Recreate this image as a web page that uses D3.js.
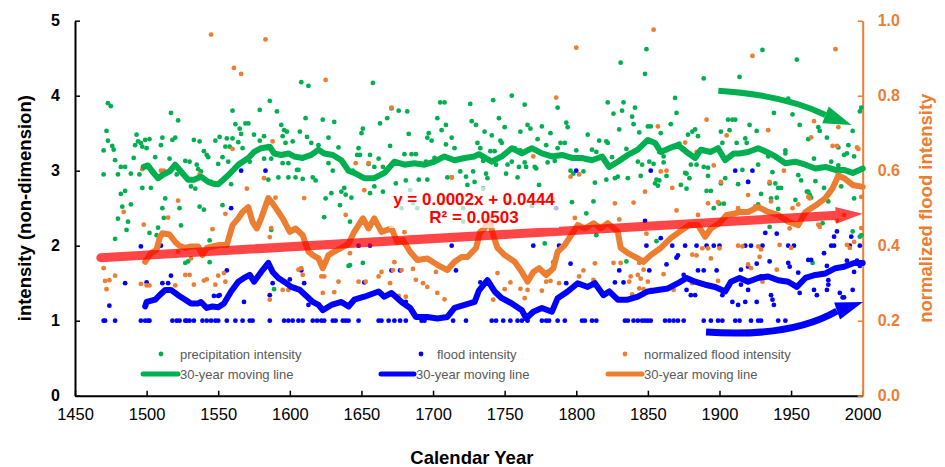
<!DOCTYPE html>
<html><head><meta charset="utf-8">
<script src="https://cdn.jsdelivr.net/npm/d3@7"></script>
<style>
html,body{margin:0;padding:0;background:#fff;}
svg{display:block;font-family:"Liberation Sans",Arial,sans-serif;}
</style></head><body>
<svg id="chart" width="945" height="467"></svg>
<script>
// ---- axis ticks ----
const xTicks = [1450,1500,1550,1600,1650,1700,1750,1800,1850,1900,1950,2000];
const leftTicks = [0,1,2,3,4,5];
const rightTicks = [0,0.2,0.4,0.6,0.8,1.0];

// ---- precipitation intensity, [year, value] ----
const precipPoints = [
[1470,3.27],[1470,2.95],[1472,3.53],[1473,3.40],[1473,3.90],[1475,3.86],[1476,3.33],[1477,3.28],[1478,3.14],[1478,2.09],
[1480,2.95],[1480,2.36],[1482,3.05],[1482,2.69],[1483,2.52],[1485,3.05],[1485,2.73],[1486,2.21],[1487,2.32],[1489,2.96],
[1489,2.55],[1491,3.17],[1492,3.34],[1493,3.48],[1494,3.39],[1495,2.95],[1496,3.37],[1497,3.32],[1497,2.77],[1499,3.41],
[1500,3.30],[1502,3.42],[1502,2.17],[1503,2.77],[1506,3.18],[1507,2.14],[1508,2.24],[1510,3.34],[1511,3.44],[1511,2.50],
[1512,2.37],[1513,2.63],[1516,3.16],[1517,3.77],[1518,3.41],[1520,3.44],[1521,2.95],[1522,3.67],[1523,2.50],[1524,2.27],
[1527,3.13],[1527,1.77],[1529,1.79],[1530,3.12],[1531,2.79],[1533,3.41],[1534,2.76],[1535,3.08],[1536,3.02],[1537,3.39],
[1537,2.52],[1538,2.99],[1540,3.26],[1540,2.48],[1542,3.21],[1543,3.18],[1544,1.78],[1544,2.07],[1545,2.85],[1548,3.40],
[1548,2.81],[1550,3.09],[1551,3.45],
[1553,3.18],[1553,2.54],[1555,3.32],[1556,3.43],[1557,3.12],[1558,3.32],[1559,2.82],[1560,3.80],[1560,3.43],[1562,3.62],
[1564,3.38],[1565,3.56],[1566,3.49],[1567,3.30],[1569,3.63],[1571,3.63],[1572,3.12],[1575,3.48],[1579,3.81],[1579,3.40],
[1582,3.46],[1582,3.16],[1585,2.88],[1586,3.93],[1587,3.16],[1587,2.21],[1589,1.42],[1591,3.79],[1592,2.91],[1594,3.61],
[1595,3.46],[1595,3.10],[1596,3.54],[1597,3.37],[1598,3.52],[1599,3.10],[1599,2.91],[1602,3.39],[1604,2.91],[1605,3.01],
[1606,3.01],[1607,3.52],[1608,4.18],[1609,2.89],[1611,3.70],[1612,3.45],[1613,4.13],[1615,3.37],[1616,2.91],[1618,2.87],
[1620,3.34],[1623,3.68],[1624,2.38],[1625,2.63],[1627,3.44],[1627,3.10],[1629,2.70],[1630,3.00],[1631,3.65],[1634,3.31],
[1635,2.54],[1636,2.72],[1638,2.77],[1639,2.68],[1641,1.73],[1642,2.32],
[1642,1.74],[1643,2.64],[1644,3.00],[1647,3.21],[1648,3.30],[1649,3.21],[1650,3.50],[1651,3.56],[1651,1.77],[1655,3.09],
[1656,3.21],[1656,2.70],[1658,4.17],[1659,3.05],[1659,2.79],[1662,3.16],[1663,3.63],[1665,3.05],[1665,2.72],[1668,3.70],
[1670,3.33],[1671,3.83],[1674,2.83],[1676,3.80],[1678,2.50],[1680,3.22],[1681,2.87],[1682,3.79],[1683,3.49],[1684,2.74],
[1685,3.22],[1686,2.57],[1688,3.22],[1689,2.50],[1690,2.88],[1695,3.12],[1696,3.44],[1696,2.88],[1697,3.50],[1699,3.40],
[1701,3.17],[1703,3.70],[1705,3.91],[1706,3.54],[1707,2.57],[1708,3.91],[1709,3.61],[1709,3.35],[1710,2.91],[1713,3.44],
[1713,2.91],[1715,3.30],[1719,2.99],[1721,2.50],[1721,2.32],[1723,2.92],[1724,2.81],[1726,3.89],[1727,3.66],[1728,2.99],
[1729,2.85],[1730,3.61],[1731,3.37],
[1733,3.30],[1735,3.13],[1735,2.76],[1736,3.52],[1737,2.96],[1738,2.90],[1740,3.26],[1741,3.47],[1742,3.94],[1743,3.26],
[1744,3.08],[1746,3.70],[1747,3.40],[1748,3.37],[1750,3.58],[1751,2.96],[1752,3.08],[1752,2.57],[1755,4.00],[1755,3.12],
[1757,3.30],[1759,2.91],[1760,3.05],[1761,3.52],[1761,3.27],[1764,3.88],[1764,3.11],[1765,3.05],[1766,3.61],[1768,3.56],
[1769,2.53],[1771,3.05],[1772,3.03],[1773,3.42],[1774,2.81],[1776,3.59],[1778,2.03],[1779,3.34],[1780,3.11],[1782,3.50],
[1784,1.78],[1785,3.13],[1787,3.84],[1787,3.30],[1789,3.37],[1792,3.37],[1793,3.64],[1794,3.58],[1796,3.00],[1797,2.58],
[1798,2.96],[1800,3.27],[1805,2.99],[1807,2.43],[1808,3.48],[1811,3.28],[1812,2.59],[1813,2.84],[1814,3.25],[1814,2.14],
[1816,3.40],[1821,3.39],[1821,2.88],[1822,3.91],
[1822,3.37],[1825,3.18],[1826,3.76],[1827,2.90],[1829,2.92],[1830,3.55],[1831,4.44],[1832,3.80],[1833,3.91],[1835,3.29],
[1835,1.79],[1836,2.90],[1839,3.72],[1840,3.62],[1841,3.84],[1843,3.12],[1844,3.51],[1845,2.93],[1846,3.08],[1848,4.29],
[1849,4.62],[1850,3.59],[1851,3.12],[1852,3.59],[1854,3.09],[1855,2.83],[1856,2.88],[1856,2.06],[1857,2.80],[1858,3.25],
[1858,2.87],[1859,3.50],[1861,3.19],[1861,3.11],[1863,2.93],[1866,3.62],[1869,3.97],[1870,3.77],[1872,3.36],[1873,2.81],
[1876,2.97],[1877,2.96],[1877,2.76],[1878,3.48],[1879,2.90],[1880,3.08],[1881,3.52],[1883,3.55],[1884,3.08],[1885,3.46],
[1889,4.23],[1889,3.05],[1891,2.73],[1892,2.93],[1892,3.04],[1894,2.73],[1896,2.50],[1900,2.56],[1901,3.52],[1901,2.83],
[1902,3.37],[1903,2.56],[1904,2.90],[1906,3.68],[1907,3.54],[1909,3.68],[1911,3.68],[1912,3.37],
[1913,2.82],[1914,4.25],[1916,3.01],[1918,3.43],[1919,3.37],[1920,2.85],[1921,3.61],[1926,3.53],[1927,3.08],[1927,2.55],
[1929,2.69],[1930,4.61],[1934,3.19],[1935,2.83],[1935,2.25],[1936,2.63],[1937,2.98],[1938,3.77],[1939,2.83],[1940,2.64],
[1941,2.77],[1941,2.49],[1943,2.77],[1946,3.27],[1946,3.23],[1948,3.96],[1951,3.75],[1953,2.61],[1954,4.48],[1955,2.94],
[1956,3.61],[1957,2.87],[1961,2.72],[1962,3.42],[1962,2.72],[1963,2.68],[1964,2.64],[1965,1.77],[1966,3.16],[1967,2.86],
[1969,3.58],[1970,3.53],[1972,2.30],[1973,2.77],[1975,3.44],[1976,2.59],[1978,3.12],[1982,2.99],[1983,3.07],[1983,3.31],
[1985,2.79],[1987,3.21],[1989,3.23],[1990,3.34],[1993,3.53],[1993,2.19],[1994,3.19],[1994,2.63],[1998,3.79],[1998,2.12],
[1999,3.84],[1999,2.14]
];

// ---- flood intensity, [year, value] ----
const floodPoints = [
[1470,1],[1471,1],[1478,1],[1496,1],[1499,1],[1501,1],[1502,1],[1518,1],[1521,1],[1523,1],[1527,1],[1528,1],[1530,1],
[1533,1],[1539,1],[1542,1],[1545,1],[1548,1],[1550,1],[1556,1],[1562,1],[1567,1],[1572,1],[1574,1],[1586,1],[1596,1],
[1599,1],[1602,1],[1606,1],[1609,1],[1616,1],[1619,1],[1622,1],[1624,1],[1630,1],[1632,1],[1637,1],[1639,1],[1641,1],
[1648,1],[1662,1],[1664,1],[1669,1],[1673,1],[1677,1],[1681,1],[1692,1],[1694,1],[1714,1],[1723,1],[1741,1],[1744,1],
[1749,1],[1754,1],[1759,1],[1762,1],[1766,1],[1776,1],[1779,1],[1781,1],[1787,1],[1792,1],[1804,1],[1806,1],[1811,1],
[1814,1],[1834,1],[1836,1],[1840,1],[1843,1],[1846,1],[1848,1],[1850,1],[1852,1],[1862,1],[1865,1],[1868,1],[1871,1],
[1875,1],[1889,1],[1894,1],[1899,1],[1902,1],[1911,1],[1914,1],[1922,1],[1927,1],[1929,1],[1941,1],[1946,1],
[1474,1.20],[1485,1.50],[1496,1.99],[1500,1.51],[1510,2.00],[1511,1.50],[1515,1.50],[1517,1.60],[1547,1.33],[1550,1.33],
[1551,1.34],[1556,1.67],[1559,2.50],[1566,3.00],[1568,1.25],[1583,3.00],[1586,1.34],[1588,1.50],[1600,1.55],[1608,1.67],
[1610,1.50],[1613,1.21],[1648,2.00],[1652,1.51],[1656,2.00],[1671,1.67],[1677,1.67],[1681,1.25],[1713,2.00],[1716,1.67],
[1733,1.51],[1770,2.00],[1786,2.50],[1788,2.00],[1793,1.50],[1796,1.76],[1800,3.00],[1812,1.50],[1827,1.51],[1830,1.67],
[1833,1.51],[1848,2.33],[1849,2.00],[1851,1.67],[1852,3.00],[1859,2.10],[1863,1.75],[1867,2.00],[1870,1.84],[1871,1.87],
[1875,1.61],[1876,2.00],[1877,1.41],[1880,1.34],[1883,1.34],[1884,2.00],[1885,1.67],[1889,1.67],[1891,2.00],[1896,2.00],
[1898,1.67],[1900,2.00],[1902,1.34],[1909,1.25],[1911,3.00],[1913,1.21],[1915,1.68],[1915,1.48],[1918,2.00],[1918,1.25],
[1920,2.85],[1920,1.72],[1920,1.41],[1922,2.00],[1923,3.00],[1926,1.76],[1926,1.25],[1929,1.59],[1930,2.00],[1932,2.17],
[1935,1.79],[1936,1.34],[1937,1.28],[1938,1.21],[1940,2.16],[1948,2.00],[1948,1.77],[1949,1.72],[1952,2.00],[1955,1.64],
[1956,1.37],[1962,1.81],[1964,1.81],[1966,1.41],[1968,1.34],[1973,1.90],[1975,1.73],[1975,1.41],[1976,1.54],[1976,1.48],
[1978,2.00],[1980,2.12],[1980,2.00],[1982,2.19],[1984,1.37],[1986,1.31],[1987,1.31],[1989,1.80],[1991,2.00],[1992,2.12],
[1993,1.41],[1994,1.65],[1996,1.80],[1998,2.00],[1998,1.73]
];

// ---- normalized flood intensity (right axis), [year, value] ----
const normFloodPoints = [
[1470,0.340],[1471,0.306],[1472,0.284],[1474,0.308],[1478,0.320],[1484,0.490],[1496,0.298],[1497,0.604],[1498,0.456],[1499,0.362],
[1500,0.294],[1502,0.294],[1510,0.600],[1512,0.600],[1515,0.475],[1520,0.294],[1522,0.520],[1522,0.384],[1527,0.322],[1530,0.322],
[1531,0.366],[1533,0.296],[1537,0.590],[1540,0.307],[1542,0.310],[1545,0.963],[1546,0.444],[1548,0.296],[1550,0.320],
[1554,0.327],[1555,0.304],[1555,0.485],[1560,0.658],[1561,0.874],[1566,0.858],[1570,0.552],[1573,0.320],[1582,0.580],[1583,0.950],
[1586,0.423],[1586,0.256],[1587,0.447],[1588,0.678],[1590,0.528],[1595,0.282],[1599,0.282],[1606,0.336],[1608,0.340],[1609,0.322],
[1610,0.527],[1622,0.318],[1623,0.274],[1624,0.318],[1625,0.842],[1631,0.276],[1634,0.304],[1639,0.482],[1642,0.380],
[1646,0.620],[1648,0.304],[1652,0.548],[1653,0.304],[1655,0.620],[1662,0.318],[1664,0.330],[1670,0.300],[1671,0.768],[1672,0.335],
[1673,0.356],[1676,0.266],[1678,0.335],[1680,0.436],[1681,0.264],[1686,0.338],[1688,0.309],[1693,0.300],[1696,0.290],[1702,0.330],
[1703,0.274],[1708,0.257],[1713,0.582],
[1742,0.256],[1745,0.327],[1750,0.284],[1754,0.302],[1761,0.285],[1764,0.260],[1766,0.282],[1770,0.638],[1776,0.280],[1779,0.304],
[1780,0.330],[1782,0.306],[1784,0.525],[1786,0.795],[1788,0.300],[1796,0.584],[1799,0.474],[1800,0.928],[1802,0.590],[1802,0.318],
[1805,0.334],[1812,0.309],[1813,0.353],
[1826,0.354],[1827,0.513],[1830,0.470],[1831,0.354],[1837,0.304],[1838,0.318],[1839,0.270],[1840,0.515],[1843,0.322],[1844,0.354],
[1844,0.286],[1845,0.312],[1847,0.336],[1847,0.284],[1848,0.544],[1849,0.432],[1850,0.304],[1852,0.282],[1854,0.976],[1857,0.718],
[1859,0.598],[1861,0.324],[1863,0.600],[1867,0.554],[1868,0.282],[1870,0.494],[1876,0.675],[1876,0.312],[1881,0.376],[1881,0.300],
[1884,0.650],[1884,0.374],[1885,0.482],[1888,0.393],[1891,0.736],[1892,0.513],[1892,0.393],[1894,0.366],[1896,0.614],[1899,0.516],
[1899,0.306],[1900,0.393],[1901,0.570],[1905,0.694],
[1913,0.500],[1913,0.400],[1916,0.398],[1918,0.306],[1920,0.535],[1920,0.350],[1922,0.340],[1923,0.906],[1925,0.505],[1926,0.312],
[1927,0.398],[1928,0.370],[1929,0.390],[1930,0.304],[1934,0.708],[1935,0.570],[1936,0.518],[1940,0.336],[1942,0.402],[1945,0.600],
[1947,0.306],[1949,0.446],[1950,0.394],[1951,0.500],[1955,0.510],[1962,0.530],[1963,0.526],[1964,0.689],[1966,0.732],[1969,0.456],
[1970,0.450],[1979,0.666],[1981,0.924],[1982,0.666],[1982,0.467],[1983,0.716],[1987,0.482],[1989,0.402],[1991,0.394],[1994,0.410],
[1996,0.662],[1997,0.658],[1999,0.530],[1999,0.447]
];

// ---- 30-year moving lines, [year, value] ----
const precipMA = [
[1498,3.05],[1501,3.07],[1504,2.99],[1508,2.90],[1511,2.94],[1516,2.99],[1520,3.08],[1524,2.99],[1529,2.88],[1533,2.88],
[1538,2.92],[1543,2.85],[1546,2.83],[1550,2.82],[1557,2.94],[1564,3.08],[1571,3.17],[1575,3.25],[1580,3.30],[1586,3.32],
[1589,3.23],[1594,3.21],[1599,3.23],[1603,3.19],[1609,3.17],[1615,3.21],[1620,3.28],[1624,3.23],[1630,3.21],[1636,3.14],
[1641,3.00],[1645,2.97],[1652,2.90],[1659,2.90],[1666,2.97],[1673,3.12],[1680,3.08],[1687,3.10],[1694,3.08],[1701,3.12],
[1708,3.19],[1715,3.14],[1722,3.17],[1729,3.19],[1732,3.22],[1741,3.12],[1748,3.19],[1755,3.30],[1762,3.23],[1769,3.30],
[1776,3.23],[1783,3.19],[1790,3.21],[1797,3.17],[1804,3.17],[1811,3.14],[1818,3.19],[1823,3.05],[1829,3.12],[1836,3.21],
[1843,3.28],[1850,3.41],[1855,3.37],[1859,3.25],[1865,3.30],[1871,3.34],[1877,3.25],[1883,3.17],[1887,3.28],[1894,3.25],
[1899,3.30],[1904,3.14],[1910,3.23],[1914,3.23],[1920,3.25],[1927,3.30],[1933,3.25],[1939,3.19],[1946,3.10],[1953,3.12],
[1960,3.08],[1967,3.03],[1974,3.05],[1981,3.01],[1987,3.01],[1993,2.97],[2000,3.03]
];
const floodMA = [
[1499,1.19],[1500,1.25],[1506,1.28],[1509,1.34],[1513,1.41],[1517,1.41],[1522,1.34],[1527,1.28],[1531,1.23],[1536,1.23],
[1538,1.25],[1542,1.17],[1546,1.19],[1550,1.18],[1554,1.23],[1559,1.39],[1564,1.52],[1568,1.57],[1572,1.61],[1575,1.52],
[1580,1.65],[1585,1.77],[1588,1.65],[1592,1.57],[1596,1.52],[1601,1.45],[1607,1.41],[1611,1.34],[1616,1.25],[1620,1.21],
[1623,1.14],[1629,1.21],[1636,1.25],[1641,1.19],[1645,1.28],[1652,1.32],[1662,1.39],[1666,1.32],[1671,1.37],[1678,1.25],
[1684,1.17],[1688,1.05],[1696,1.05],[1703,1.03],[1710,1.05],[1715,1.17],[1722,1.21],[1729,1.25],[1732,1.40],[1738,1.54],
[1743,1.39],[1748,1.30],[1755,1.23],[1762,1.14],[1765,1.03],[1770,1.12],[1776,1.17],[1783,1.12],[1787,1.30],[1794,1.39],
[1801,1.50],[1808,1.45],[1813,1.50],[1819,1.34],[1823,1.39],[1829,1.28],[1836,1.28],[1843,1.32],[1850,1.39],[1857,1.41],
[1864,1.43],[1871,1.50],[1877,1.57],[1883,1.52],[1890,1.48],[1897,1.45],[1904,1.39],[1908,1.52],[1914,1.57],[1920,1.52],
[1927,1.57],[1934,1.59],[1941,1.54],[1948,1.52],[1954,1.45],[1960,1.57],[1967,1.61],[1974,1.63],[1981,1.70],[1987,1.72],
[1994,1.77],[2000,1.77]
];
const normFloodMA = [
[1499,0.357],[1503,0.380],[1507,0.389],[1509,0.420],[1511,0.433],[1516,0.430],[1520,0.410],[1523,0.400],[1527,0.394],[1531,0.398],
[1536,0.398],[1539,0.375],[1542,0.394],[1546,0.398],[1551,0.402],[1556,0.402],[1560,0.455],[1564,0.473],[1567,0.490],[1571,0.503],
[1574,0.463],[1577,0.446],[1580,0.473],[1585,0.527],[1588,0.513],[1592,0.490],[1595,0.473],[1600,0.437],[1604,0.446],[1609,0.428],
[1613,0.384],[1616,0.375],[1620,0.366],[1623,0.340],[1627,0.375],[1631,0.384],[1636,0.394],[1641,0.405],[1645,0.437],[1651,0.473],
[1655,0.446],[1659,0.473],[1664,0.437],[1671,0.446],[1675,0.410],[1679,0.415],[1684,0.384],[1689,0.362],[1696,0.366],[1703,0.349],
[1710,0.335],[1715,0.357],[1720,0.370],[1724,0.370],[1730,0.394],[1733,0.437],[1736,0.446],[1739,0.473],[1742,0.428],[1745,0.394],
[1750,0.375],[1757,0.357],[1762,0.330],[1766,0.304],[1770,0.330],[1774,0.340],[1779,0.322],[1784,0.340],[1787,0.384],[1792,0.402],
[1798,0.437],[1801,0.455],[1806,0.446],[1812,0.460],[1817,0.446],[1822,0.460],[1829,0.437],[1831,0.394],[1836,0.380],[1843,0.366],
[1847,0.357],[1852,0.375],[1859,0.394],[1866,0.420],[1872,0.437],[1879,0.455],[1885,0.455],[1890,0.424],[1894,0.446],[1900,0.460],
[1905,0.482],[1911,0.486],[1914,0.490],[1920,0.490],[1927,0.503],[1934,0.490],[1941,0.482],[1948,0.464],[1955,0.455],[1960,0.490],
[1967,0.507],[1974,0.527],[1979,0.553],[1983,0.587],[1987,0.580],[1993,0.562],[2000,0.557]
];

// ---- linear trend of normalized flood intensity ----
const trendYears = [1468, 2000];
const trendStart = 0.368;
const trendSlope = 0.00022;
const trendLabels = ["y = 0.0002x + 0.0444", "R\u00B2 = 0.0503"];

// ---- tendency arrows, [year, value] on the left axis: start, control, shaft end, tip ----
const precipArrow = [[1899.2,4.067],[1945.7,4.009],[1974.0,3.743],[1992.2,3.609]];
const floodArrow  = [[1890.6,0.849],[1949.2,0.769],[1982.1,1.129],[2000.2,1.249]];

// ---- legend ----
const legendLabels = ["precipitation intensity","flood intensity","normalized flood intensity"];
const movingLabel = "30-year moving line";

const GREEN = "#00B050", BLUE = "#0000FF", ORANGE = "#ED7D31", RED = "#FF0000";

const svg = d3.select("#chart");
const M = {left: 75, right: 862.7, top: 20.7, bottom: 395.7};

const x = d3.scaleLinear().domain([1450, 2000]).range([M.left, M.right]);
const yL = d3.scaleLinear().domain([0, 5]).range([M.bottom, M.top]);
const yR = d3.scaleLinear().domain([0, 1]).range([M.bottom, M.top]);

// ---- axes ----
const gx = svg.append("g").attr("transform", `translate(0,${M.bottom})`)
  .call(d3.axisBottom(x).tickValues(xTicks).tickFormat(d3.format("d")).tickSizeInner(-5).tickSizeOuter(0).tickPadding(13));
gx.selectAll("text").attr("font-size", 16.5).attr("fill", "#000");

const gl = svg.append("g").attr("transform", `translate(${M.left},0)`)
  .call(d3.axisLeft(yL).tickValues(leftTicks).tickFormat(d3.format("d")).tickSizeInner(-5).tickSizeOuter(0).tickPadding(15));
gl.selectAll("text").attr("font-size", 16).attr("font-weight", "bold").attr("fill", "#000");

const gr = svg.append("g").attr("transform", `translate(${M.right},0)`)
  .call(d3.axisRight(yR).tickValues(rightTicks).tickFormat(d3.format(".1f")).tickSizeInner(-5).tickSizeOuter(0).tickPadding(15));
gr.selectAll("text").attr("font-size", 16).attr("font-weight", "bold").attr("fill", ORANGE);

[gx, gl].forEach(g => { g.select(".domain").attr("stroke", "#000").attr("stroke-width", 2);
  g.selectAll(".tick line").attr("stroke", "#000").attr("stroke-width", 1.5); });
gr.select(".domain").attr("stroke", ORANGE).attr("stroke-width", 2);
gr.selectAll(".tick line").attr("stroke", ORANGE).attr("stroke-width", 1.5);

// ---- axis titles ----
svg.append("text").attr("x", (M.left + M.right) / 2 + 3).attr("y", 464)
  .attr("text-anchor", "middle").attr("font-size", 18.5).attr("font-weight", "bold").attr("fill", "#000")
  .text("Calendar Year");
svg.append("text").attr("transform", `translate(31,${(M.top + M.bottom) / 2}) rotate(-90)`)
  .attr("text-anchor", "middle").attr("font-size", 18.5).attr("font-weight", "bold").attr("fill", "#000")
  .text("intensity (non-dimension)");
svg.append("text").attr("transform", `translate(932,${(M.top + M.bottom) / 2}) rotate(-90)`)
  .attr("text-anchor", "middle").attr("font-size", 18.5).attr("font-weight", "bold").attr("fill", ORANGE)
  .text("normalized flood intensity");

// ---- scatter points ----
const plot = svg.append("g");
function dots(data, yScale, color) {
  plot.append("g").selectAll("circle").data(data).join("circle")
    .attr("cx", d => x(d[0])).attr("cy", d => yScale(d[1])).attr("r", 2.4).attr("fill", color);
}
dots(precipPoints, yL, GREEN);
dots(floodPoints, yL, BLUE);
dots(normFloodPoints, yR, ORANGE);

// ---- moving lines ----
function maLine(data, yScale, color) {
  plot.append("path").datum(data)
    .attr("d", d3.line().x(d => x(d[0])).y(d => yScale(d[1])))
    .attr("fill", "none").attr("stroke", color).attr("stroke-width", 6)
    .attr("stroke-linejoin", "round").attr("stroke-linecap", "round");
}
maLine(precipMA, yL, GREEN);
maLine(floodMA, yL, BLUE);
maLine(normFloodMA, yR, ORANGE);

// ---- trend line with arrow head ----
{
  const p0 = [x(trendYears[0]), yR(trendStart)];
  const p1 = [x(trendYears[1]), yR(trendStart + trendSlope * (trendYears[1] - trendYears[0]))];
  const dx = p1[0] - p0[0], dy = p1[1] - p0[1], L = Math.hypot(dx, dy);
  const u = [dx / L, dy / L], n = [-u[1], u[0]];
  const headLen = 27, headHalf = 8.5;
  const b = [p1[0] - u[0] * headLen, p1[1] - u[1] * headLen];
  const g = plot.append("g").attr("opacity", 0.72);
  g.append("line").attr("x1", p0[0]).attr("y1", p0[1]).attr("x2", b[0] + u[0] * 2).attr("y2", b[1] + u[1] * 2)
    .attr("stroke", RED).attr("stroke-width", 9).attr("stroke-linecap", "round");
  g.append("path").attr("d", d3.line()([
    [b[0] + n[0] * headHalf, b[1] + n[1] * headHalf], p1, [b[0] - n[0] * headHalf, b[1] - n[1] * headHalf]
  ]) + "Z").attr("fill", RED);
}

// ---- trend equation ----
svg.append("rect").attr("x", 389).attr("y", 187).attr("width", 170).attr("height", 41)
  .attr("fill", "#fff").attr("opacity", 0.7);
trendLabels.forEach((t, i) => {
  svg.append("text").attr("x", 474).attr("y", 205 + i * 18).attr("text-anchor", "middle")
    .attr("font-size", 17).attr("font-weight", "bold").attr("fill", RED).text(t);
});

// ---- curved tendency arrows ----
function curvedArrow(pts, color, width, headHalf) {
  const P = pts.map(p => [x(p[0]), yL(p[1])]);
  const path = d3.path();
  path.moveTo(P[0][0], P[0][1]);
  path.quadraticCurveTo(P[1][0], P[1][1], P[2][0], P[2][1]);
  svg.append("path").attr("d", path.toString()).attr("fill", "none")
    .attr("stroke", color).attr("stroke-width", width);
  const dx = P[3][0] - P[2][0], dy = P[3][1] - P[2][1], L = Math.hypot(dx, dy);
  const n = [-dy / L, dx / L];
  svg.append("path").attr("d", d3.line()([
    [P[2][0] + n[0] * headHalf, P[2][1] + n[1] * headHalf], P[3], [P[2][0] - n[0] * headHalf, P[2][1] - n[1] * headHalf]
  ]) + "Z").attr("fill", color);
}
curvedArrow(precipArrow, GREEN, 6, 9);
curvedArrow(floodArrow, BLUE, 7, 9);

// ---- legend ----
const legend = svg.append("g").attr("font-size", 13).attr("fill", "#595959");
const dotX = [161, 421, 625], textX = [180, 437, 644];
const lineX = [[143, 178], [381, 414], [608, 642]], lineTextX = [180, 416, 644];
const colors = [GREEN, BLUE, ORANGE];
legendLabels.forEach((t, i) => {
  legend.append("circle").attr("cx", dotX[i]).attr("cy", 354).attr("r", 2.4).attr("fill", colors[i]);
  legend.append("text").attr("x", textX[i]).attr("y", 358.5).text(t);
  legend.append("line").attr("x1", lineX[i][0]).attr("x2", lineX[i][1]).attr("y1", 374).attr("y2", 374)
    .attr("stroke", colors[i]).attr("stroke-width", 5).attr("stroke-linecap", "round");
  legend.append("text").attr("x", lineTextX[i]).attr("y", 378.5).text(movingLabel);
});
</script>
</body></html>
